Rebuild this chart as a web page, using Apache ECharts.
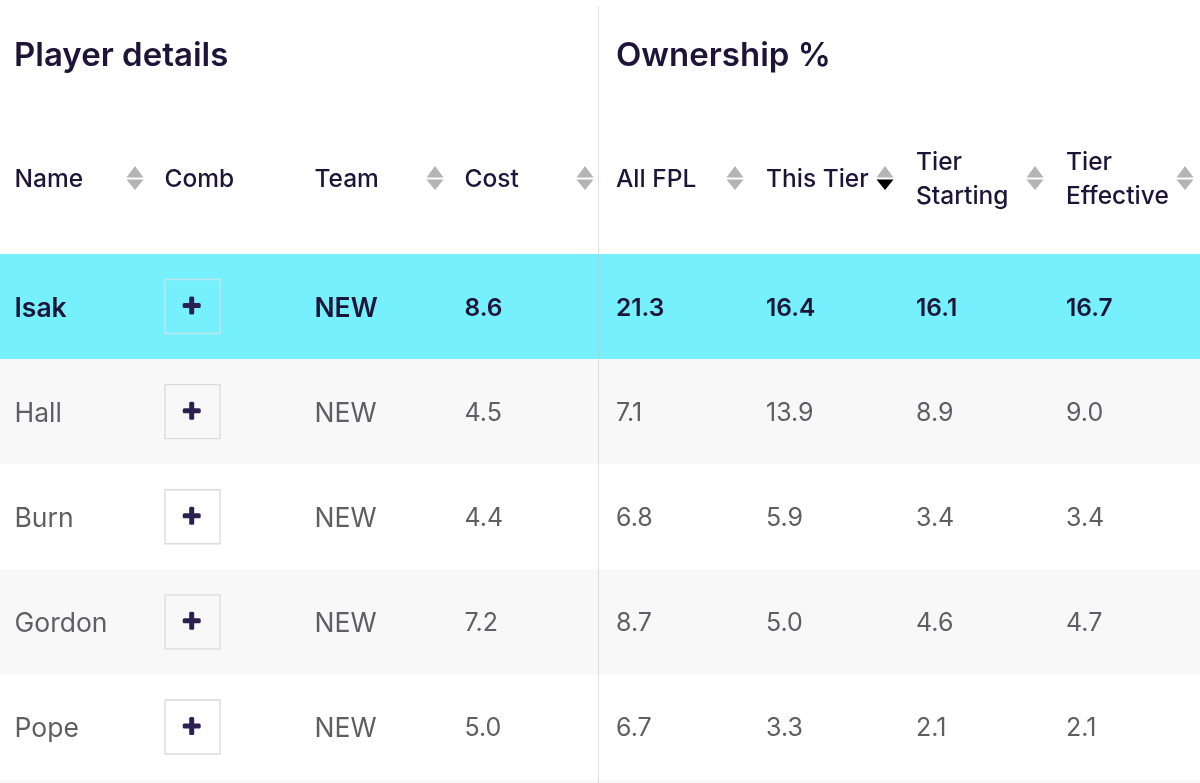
<!DOCTYPE html>
<html>
<head>
<meta charset="utf-8">
<style>
  html, body { margin: 0; padding: 0; background: #fff; }
  #chart { width: 1200px; height: 783px; }
</style>
<script src="https://cdn.jsdelivr.net/npm/echarts@6/dist/echarts.min.js"></script>
</head>
<body>
<div id="chart"></div>
<script>
// table data
const columns = ['Name', 'Comb', 'Team', 'Cost', 'All FPL', 'This Tier', 'Tier\nStarting', 'Tier\nEffective'];
const sortable = [1, 0, 1, 1, 1, 1, 1, 1];
const sortedDown = [0, 0, 0, 0, 0, 1, 0, 0];
const players = ['Isak', 'Hall', 'Burn', 'Gordon', 'Pope'];
const teams = ['NEW', 'NEW', 'NEW', 'NEW', 'NEW'];
const cost = ['8.6', '4.5', '4.4', '7.2', '5.0'];
const allFpl = ['21.3', '7.1', '6.8', '8.7', '6.7'];
const thisTier = ['16.4', '13.9', '5.9', '5.0', '3.3'];
const tierStarting = ['16.1', '8.9', '3.4', '4.6', '2.1'];
const tierEffective = ['16.7', '9.0', '3.4', '4.7', '2.1'];

const FONT = 'Inter';
const DARK = '#1c1538';
const GREY = '#5f5f63';
const CYAN = '#76f0fd';
const STRIPE = '#f8f8f8';
const ARROW = '#b4b4b4';

const rowColumns = [players, null, teams, cost, allFpl, thisTier, tierStarting, tierEffective];

// columns after the divider sit a touch further right
const textLeft = (i, x) => x + (i >= 4 ? 16 : 14.5);

const bandData = players.map((p, r) => [r]);
const cellData = [];
players.forEach((p, r) => {
  rowColumns.forEach((col, c) => {
    if (col) cellData.push([c, r, col[r]]);
  });
});
const buttonData = players.map((p, r) => [1, r]);
const headerData = columns.map((c, i) => [i, 0, c]);

const chart = echarts.init(document.getElementById('chart'), null, { renderer: 'canvas' });

chart.setOption({
  animation: false,
  backgroundColor: '#fff',
  title: [
    { text: 'Player details', left: 9, top: 35, textStyle: { fontFamily: FONT, fontSize: 33, fontWeight: 600, color: DARK } },
    { text: 'Ownership %', left: 611, top: 35, textStyle: { fontFamily: FONT, fontSize: 33, fontWeight: 600, color: DARK } }
  ],
  grid: [
    { left: 0, width: 1200, top: 126, height: 104 },
    { left: 0, width: 1200, top: 254, height: 525.5 }
  ],
  xAxis: [0, 1].map(g => ({
    type: 'category',
    gridIndex: g,
    data: columns,
    show: false
  })),
  yAxis: [
    { type: 'category', gridIndex: 0, data: ['header'], show: false },
    { type: 'category', gridIndex: 1, data: players, inverse: true, show: false }
  ],
  graphic: [
    { type: 'rect', z: -1, shape: { x: 0, y: 779.5, width: 1200, height: 4 }, style: { fill: STRIPE } },
    { type: 'line', z: 50, shape: { x1: 598.5, y1: 6, x2: 598.5, y2: 783 }, style: { stroke: 'rgba(190,200,205,0.55)', lineWidth: 1 } }
  ],
  series: [
    {
      // row backgrounds
      type: 'custom',
      xAxisIndex: 1,
      yAxisIndex: 1,
      z: 1,
      data: bandData,
      encode: { y: 0 },
      renderItem: (params, api) => {
        const r = api.value(0);
        const mid = api.coord([0, r])[1];
        const h = api.size([0, 1])[1];
        const fill = r === 0 ? CYAN : (r % 2 === 1 ? STRIPE : '#fff');
        return { type: 'rect', shape: { x: 0, y: mid - h / 2, width: 1200, height: h }, style: { fill: fill } };
      }
    },
    {
      // add buttons
      type: 'custom',
      xAxisIndex: 1,
      yAxisIndex: 1,
      z: 2,
      data: buttonData,
      encode: { x: 0, y: 1 },
      renderItem: (params, api) => {
        const p = api.coord([api.value(0), api.value(1)]);
        const r = api.value(1);
        const cx = p[0] - 32.5;
        const cy = p[1];
        return {
          type: 'group',
          children: [
            {
              type: 'rect',
              shape: { x: cx - 27.5, y: cy - 27, width: 55, height: 54 },
              style: { fill: 'transparent', stroke: r === 0 ? '#bfe6ec' : '#dcdcdc', lineWidth: 1.4 }
            },
            { type: 'rect', shape: { x: cx - 9.8, y: cy - 3.5, width: 18, height: 5, r: 1.5 }, style: { fill: '#2a2150' } },
            { type: 'rect', shape: { x: cx - 3.3, y: cy - 10, width: 5, height: 18, r: 1.5 }, style: { fill: '#2a2150' } }
          ]
        };
      }
    },
    {
      // cell texts
      type: 'custom',
      xAxisIndex: 1,
      yAxisIndex: 1,
      z: 3,
      data: cellData,
      encode: { x: 0, y: 1 },
      renderItem: (params, api) => {
        const c = api.value(0);
        const r = api.value(1);
        const p = api.coord([c, r]);
        const w = api.size([1, 0])[0];
        const isTop = r === 0;
        // names and team codes run wider than the numbers
        const size = c <= 2 ? 26.5 : (isTop ? 24.5 : 25);
        return {
          type: 'text',
          style: {
            x: textLeft(c, p[0] - w / 2),
            y: p[1] + 2,
            text: String(cellData[params.dataIndex][2]),
            fill: isTop ? DARK : GREY,
            font: (isTop ? '600 ' : '400 ') + size + 'px ' + FONT,
            verticalAlign: 'middle',
            align: 'left'
          }
        };
      }
    },
    {
      // column headers and sort arrows
      type: 'custom',
      xAxisIndex: 0,
      yAxisIndex: 0,
      z: 3,
      data: headerData,
      encode: { x: 0, y: 1 },
      renderItem: (params, api) => {
        const c = api.value(0);
        const p = api.coord([c, 0]);
        const w = api.size([1, 0])[0];
        const left = p[0] - w / 2;
        const children = [{
          type: 'text',
          style: {
            x: textLeft(c, left),
            y: p[1] + 2,
            text: columns[c],
            fill: DARK,
            font: '500 24.5px ' + FONT,
            lineHeight: 34,
            verticalAlign: 'middle',
            align: 'left'
          }
        }];
        if (sortable[c]) {
          const ax = left + 135;
          const ay = p[1];
          children.push({
            type: 'polygon',
            shape: { points: [[ax - 8.5, ay - 0.5], [ax + 8.5, ay - 0.5], [ax, ay - 12]] },
            style: { fill: ARROW }
          });
          children.push({
            type: 'polygon',
            shape: { points: [[ax - 8.5, ay + 1.5], [ax + 8.5, ay + 1.5], [ax, ay + 12]] },
            style: { fill: sortedDown[c] ? '#000' : ARROW }
          });
        }
        return { type: 'group', children: children };
      }
    }
  ]
});

window.addEventListener('resize', () => chart.resize());
</script>
</body>
</html>
